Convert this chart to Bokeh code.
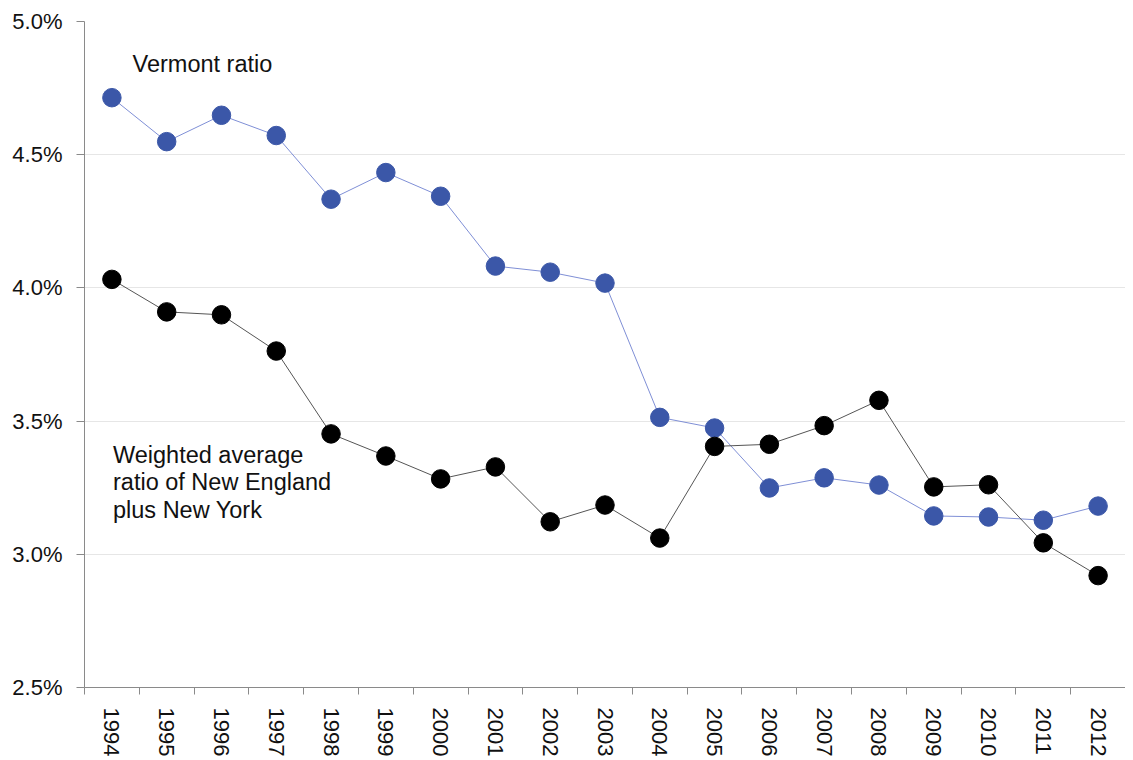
from bokeh.plotting import figure
from bokeh.models import FixedTicker, PrintfTickFormatter, Range1d, Label
from bokeh.embed import file_html
from bokeh.resources import INLINE

years = ["1994", "1995", "1996", "1997", "1998", "1999", "2000", "2001", "2002", "2003",
         "2004", "2005", "2006", "2007", "2008", "2009", "2010", "2011", "2012"]
vermont = [4.714, 4.549, 4.648, 4.572, 4.333, 4.433, 4.344, 4.082, 4.059, 4.018,
           3.514, 3.474, 3.249, 3.287, 3.260, 3.144, 3.140, 3.128, 3.181]
weighted = [4.032, 3.910, 3.899, 3.763, 3.452, 3.369, 3.283, 3.328, 3.122, 3.185,
            3.061, 3.405, 3.413, 3.483, 3.578, 3.253, 3.261, 3.043, 2.920]
y_ticks = [2.5, 3.0, 3.5, 4.0, 4.5, 5.0]

xs = [i + 0.5 for i in range(len(years))]
FONT = "Liberation Sans"

p = figure(frame_width=1041, frame_height=666, output_backend="svg", toolbar_location=None,
           x_range=Range1d(0, len(years)), y_range=Range1d(2.5, 5.0),
           min_border_left=84, min_border_right=0, min_border_top=21, min_border_bottom=0)
p.outline_line_color = None
p.background_fill_color = "white"
p.border_fill_color = "white"

# x axis
p.xaxis.ticker = FixedTicker(ticks=xs, minor_ticks=list(range(len(years) + 1)))
p.xaxis.major_label_overrides = {x: y for x, y in zip(xs, years)}
p.xaxis.major_label_orientation = "vertical"
p.xaxis.major_tick_out = 0
p.xaxis.major_tick_in = 0
p.xaxis.minor_tick_out = 7
p.xaxis.minor_tick_in = 0
p.xaxis.minor_tick_line_color = "#8a8a8a"
p.xaxis.axis_line_color = "#8a8a8a"
p.xaxis.major_label_text_font = FONT
p.xaxis.major_label_text_font_size = "22px"
p.xaxis.major_label_text_color = "#111111"
p.xaxis.major_label_standoff = 13
p.xaxis.axis_label_standoff = 0
p.xgrid.grid_line_color = None

# y axis
p.yaxis.ticker = FixedTicker(ticks=y_ticks)
p.yaxis.formatter = PrintfTickFormatter(format="%.1f%%")
p.yaxis.major_tick_out = 8
p.yaxis.major_tick_in = 0
p.yaxis.minor_tick_line_color = None
p.yaxis.major_tick_line_color = "#8a8a8a"
p.yaxis.axis_line_color = "#8a8a8a"
p.yaxis.major_label_text_font = FONT
p.yaxis.major_label_text_font_size = "22px"
p.yaxis.major_label_text_color = "#111111"
p.yaxis.major_label_standoff = 14
p.ygrid.ticker = FixedTicker(ticks=y_ticks)
p.ygrid.grid_line_color = "#e6e6e6"
p.ygrid.grid_line_width = 1

# series
p.line(xs, vermont, line_color="#7f8fd6", line_width=1)
p.scatter(xs, vermont, size=18.5, fill_color="#3b57a8", line_color="#3b57a8")
p.line(xs, weighted, line_color="#555555", line_width=1)
p.scatter(xs, weighted, size=18.5, fill_color="#000000", line_color="#000000")

# annotations
p.add_layout(Label(x=0.877, y=4.839, text="Vermont ratio", text_font=FONT,
                   text_font_size="23.5px", text_color="#111111", text_baseline="alphabetic"))
for i, line in enumerate(["Weighted average", "ratio of New England", "plus New York"]):
    p.add_layout(Label(x=0.52, y=3.373 - i * 0.1025, text=line, text_font=FONT,
                       text_font_size="23.5px", text_color="#111111", text_baseline="alphabetic"))

open("out.html", "w").write(file_html(p, INLINE))
